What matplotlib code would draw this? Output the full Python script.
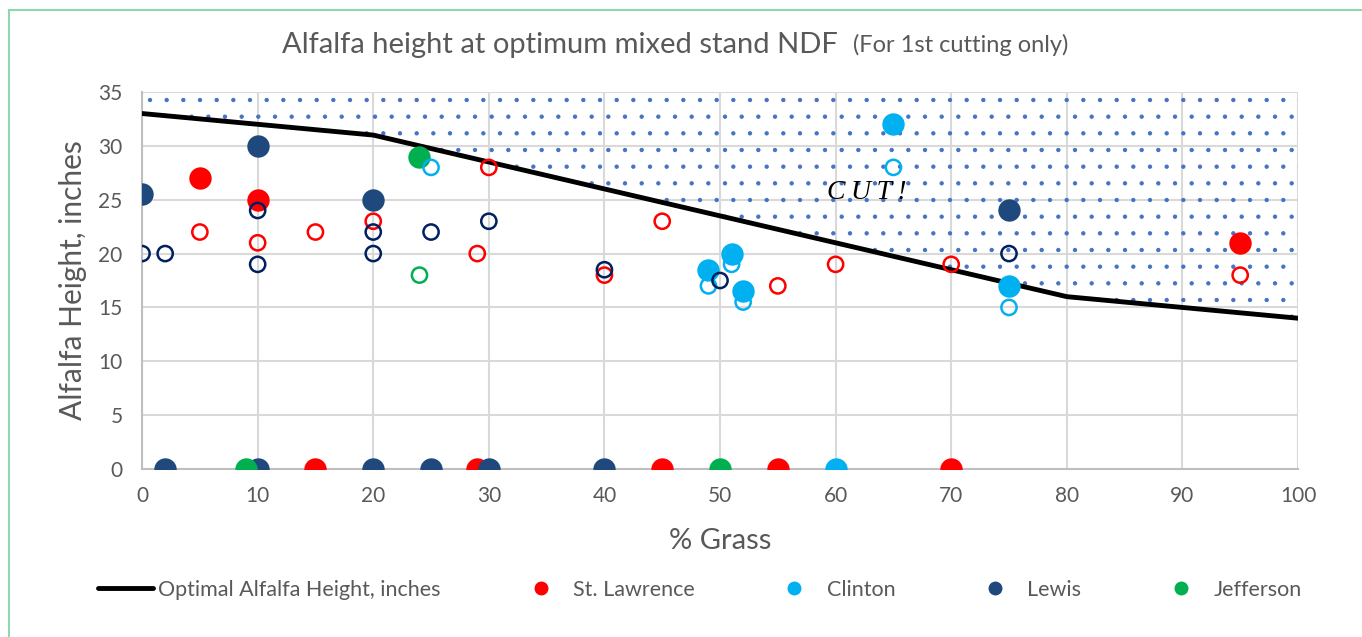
import numpy as np
import matplotlib.pyplot as plt
from matplotlib.lines import Line2D
from matplotlib.patches import Rectangle

# optimum alfalfa height line
opt_x = [0, 10, 20, 30, 40, 50, 60, 70, 80, 90, 100]
opt_y = [33, 32, 31, 28.5, 26, 23.5, 21, 18.5, 16, 15, 14]

# filled markers
stl_x = [5, 10, 95, 15, 29, 45, 55, 70]
stl_y = [27, 25, 21, 0, 0, 0, 0, 0]
cli_x = [65, 49, 51, 52, 75, 60]
cli_y = [32, 18.5, 20, 16.5, 17, 0]
lew_x = [0, 10, 20, 75, 2, 10, 20, 25, 30, 40]
lew_y = [25.5, 30, 25, 24, 0, 0, 0, 0, 0, 0]
jef_x = [24, 9, 50]
jef_y = [29, 0, 0]

# open markers
stl_open_x = [5, 10, 15, 20, 29, 30, 40, 45, 55, 60, 70, 95]
stl_open_y = [22, 21, 22, 23, 20, 28, 18, 23, 17, 19, 19, 18]
cli_open_x = [25, 49, 51, 52, 65, 75]
cli_open_y = [28, 17, 19, 15.5, 28, 15]
lew_open_x = [0, 2, 10, 10, 20, 20, 25, 30, 40, 50, 75]
lew_open_y = [20, 20, 24, 19, 22, 20, 22, 23, 18.5, 17.5, 20]
jef_open_x = [24]
jef_open_y = [18]

RED = '#FF0000'
CYAN = '#00B0F0'
NAVY = '#1F497D'
NAVY_OPEN = '#002060'
GREEN = '#00B050'
GRAY = '#595959'

plt.rcParams['font.family'] = ['Lato', 'DejaVu Sans']
plt.rcParams['hatch.linewidth'] = 0.7

fig = plt.figure(figsize=(13.62, 6.37), dpi=100)
ax = fig.add_axes([0.1043, 0.2637, 0.8487, 0.5919])

# frame round the figure (only left and top visible)
fig.patches.append(Rectangle((0.0066, -0.1), 1.2, 1.084, transform=fig.transFigure,
                             fill=False, edgecolor='#8ED8B0', linewidth=1.5))

ax.fill_between(opt_x, opt_y, 35, facecolor='none', edgecolor='#4472C4',
                hatch='.', linewidth=0, zorder=1)
ax.plot(opt_x, opt_y, color='black', lw=3.5, zorder=3, solid_capstyle='round')

big = 260
small = 120
ax.scatter(stl_x, stl_y, s=big, color=RED, zorder=4, linewidths=0)
ax.scatter(cli_x, cli_y, s=big, color=CYAN, zorder=4, linewidths=0)
ax.scatter(lew_x, lew_y, s=big, color=NAVY, zorder=4, linewidths=0)
ax.scatter(jef_x, jef_y, s=big, color=GREEN, zorder=4, linewidths=0)

ax.scatter(stl_open_x, stl_open_y, s=small, facecolors='none', edgecolors=RED, linewidths=1.8, zorder=5)
ax.scatter(cli_open_x, cli_open_y, s=small, facecolors='none', edgecolors=CYAN, linewidths=1.8, zorder=5)
ax.scatter(lew_open_x, lew_open_y, s=small, facecolors='none', edgecolors=NAVY_OPEN, linewidths=1.8, zorder=5)
ax.scatter(jef_open_x, jef_open_y, s=small, facecolors='none', edgecolors=GREEN, linewidths=1.8, zorder=5)

ax.text(62.7, 25.7, 'C\u2009U\u2009T\u2009!', family=['Liberation Serif', 'DejaVu Serif'],
        style='italic', fontsize=20, ha='center', va='center', zorder=6)

ax.set_xlim(0, 100)
ax.set_ylim(0, 35)
ax.set_xticks(range(0, 101, 10))
ax.set_yticks(range(0, 36, 5))
ax.grid(True, color='#D9D9D9', lw=1.5, zorder=0)
ax.set_axisbelow(True)
for s in ['top', 'right']:
    ax.spines[s].set_visible(False)
for s in ['left', 'bottom']:
    ax.spines[s].set_color('#BFBFBF')
    ax.spines[s].set_linewidth(1.5)
ax.tick_params(length=0, labelsize=15, labelcolor=GRAY)
ax.tick_params(axis='y', pad=14)
ax.tick_params(axis='x', pad=12)

ax.set_xlabel('% Grass', fontsize=21, color=GRAY, labelpad=16)
ax.set_ylabel('Alfalfa Height, inches', fontsize=21.5, color=GRAY, labelpad=8)

fig.text(0.6155, 0.929, 'Alfalfa height at optimum mixed stand NDF', fontsize=21,
         color=GRAY, ha='right', va='center')
fig.text(0.626, 0.929, '(For 1st cutting only)', fontsize=17,
         color=GRAY, ha='left', va='center')

handles = [
    Line2D([], [], color='black', lw=3.5, solid_capstyle='round'),
    Line2D([], [], marker='o', ls='', color=RED, markersize=9),
    Line2D([], [], marker='o', ls='', color=CYAN, markersize=9),
    Line2D([], [], marker='o', ls='', color=NAVY, markersize=9),
    Line2D([], [], marker='o', ls='', color=GREEN, markersize=9),
]
labels = ['Optimal Alfalfa Height, inches', 'St. Lawrence', 'Clinton', 'Lewis', 'Jefferson']
leg = fig.legend(handles, labels, loc='center', bbox_to_anchor=(0.514, 0.074), ncol=5,
                 frameon=False, fontsize=15.5, columnspacing=3.37, handlelength=2.56,
                 handletextpad=0.21, borderpad=0)
for t in leg.get_texts():
    t.set_color(GRAY)

fig.savefig('out.png', dpi=100)
